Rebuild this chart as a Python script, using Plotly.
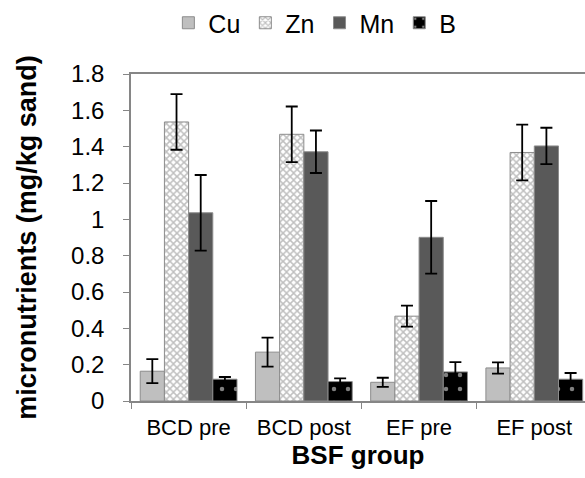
import plotly.graph_objects as go

# BSF groups on the x axis
groups = ["BCD pre", "BCD post", "EF pre", "EF post"]

# Mean micronutrient concentrations (mg/kg sand) and their error bars
cu = [0.164, 0.269, 0.103, 0.182]
cu_err = [0.066, 0.080, 0.025, 0.031]

zn = [1.536, 1.468, 0.467, 1.368]
zn_err = [0.153, 0.153, 0.058, 0.153]

mn = [1.036, 1.372, 0.901, 1.404]
mn_err = [0.208, 0.117, 0.200, 0.100]

b = [0.120, 0.107, 0.160, 0.120]
b_err = [0.012, 0.018, 0.054, 0.034]

y_ticks = [0, 0.2, 0.4, 0.6, 0.8, 1, 1.2, 1.4, 1.6, 1.8]
y_tick_text = ["0", "0.2", "0.4", "0.6", "0.8", "1", "1.2", "1.4", "1.6", "1.8"]

FONT = "Liberation Sans, Arial, sans-serif"
OUTLINE = "#8c8c8c"
AXIS = "#868686"


def err(vals):
    return dict(type="data", array=vals, visible=True, color="black",
                thickness=1.8, width=6)


fig = go.Figure()
fig.add_trace(go.Bar(
    name="Cu", x=groups, y=cu, error_y=err(cu_err),
    marker=dict(color="#bfbfbf", line=dict(color=OUTLINE, width=1)),
))
fig.add_trace(go.Bar(
    name="Zn", x=groups, y=zn, error_y=err(zn_err),
    marker=dict(color="white", line=dict(color=OUTLINE, width=1),
                pattern=dict(shape="x", fgcolor="#808080", bgcolor="white",
                             size=5, solidity=0.5)),
))
fig.add_trace(go.Bar(
    name="Mn", x=groups, y=mn, error_y=err(mn_err),
    marker=dict(color="#595959", line=dict(color=OUTLINE, width=1)),
))
fig.add_trace(go.Bar(
    name="B", x=groups, y=b, error_y=err(b_err),
    marker=dict(color="black", line=dict(color=OUTLINE, width=1),
                pattern=dict(shape=".", fgcolor="white", bgcolor="black",
                             size=14, solidity=0.08)),
))

fig.update_layout(
    width=585, height=478,
    margin=dict(l=131, r=0, t=74, b=77),
    paper_bgcolor="white", plot_bgcolor="white",
    barmode="group", bargap=0.16, bargroupgap=0,
    font=dict(family=FONT, color="black", size=22),
    legend=dict(orientation="h", x=0.405, xanchor="center", y=1.0,
                yanchor="top", yref="container",
                font=dict(size=25), itemwidth=30,
                traceorder="normal"),
    showlegend=True,
)

fig.update_xaxes(
    type="category", range=[-0.5, 3.44],
    showline=True, linecolor=AXIS, linewidth=1.5, mirror=True,
    ticks="outside", tickson="boundaries", ticklen=6, tickcolor=AXIS,
    tickfont=dict(size=22), ticklabelstandoff=6, showgrid=False,
    title=dict(text="<b>BSF group</b>", font=dict(size=26), standoff=6),
)
fig.update_yaxes(
    range=[0, 1.8], tickvals=y_ticks, ticktext=y_tick_text,
    showline=True, linecolor=AXIS, linewidth=1.5,
    ticks="outside", ticklen=6, tickcolor=AXIS,
    tickfont=dict(size=24), ticklabelstandoff=14, showgrid=False,
    zeroline=False,
    title=dict(text="<b>micronutrients (mg/kg sand)</b>", font=dict(size=27),
               standoff=27),
)

fig.write_html("out.html")
